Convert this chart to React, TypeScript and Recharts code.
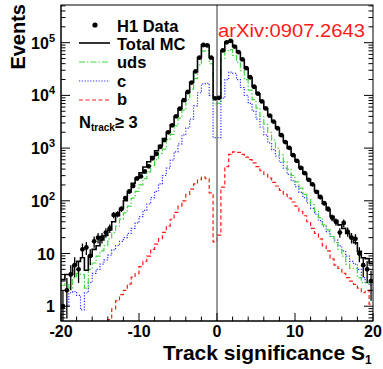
import React from 'react';
import { ComposedChart, Line, Scatter, XAxis, YAxis, ErrorBar, ReferenceLine } from 'recharts';

// 80 bins of width 0.5 from -20 to 20
const binLow = -20;
const binWidth = 0.5;

const totalMC = [
  3.2, 4.0, 4.0, 6.0, 7.1, 8.3, 4.8, 8.9, 12, 14,
  18, 22, 28, 40, 52, 71, 100, 148, 214, 269,
  339, 437, 550, 692, 891, 1122, 1514, 1995, 2754, 3981,
  5623, 7943, 11480, 17780, 28180, 52480, 91200, 89130, 52480, 8900,
  8910, 70800, 102300, 107200, 85100, 66070, 47860, 33110, 21880, 14790,
  10720, 7760, 5620, 4170, 3160, 2400, 1740, 1320, 1000, 741,
  562, 427, 331, 257, 200, 151, 115, 89, 68, 51,
  42, 35, 30, 24, 20, 16, 11, 8.3, 8.0, 6.5,
];

const udsMC = [
  2.5, 2.8, 2.2, 3.5, 4.2, 4.0, 2.2, 5.0, 6.6, 8.9,
  11.2, 14.1, 19, 25, 33, 45, 59, 79, 112, 151,
  200, 263, 355, 468, 603, 794, 955, 1445, 1820, 2630,
  3715, 5248, 8318, 13180, 20890, 38020, 69180, 70790, 39810, 6900,
  7079, 50120, 70790, 74130, 57540, 42660, 29510, 19950, 12590, 8318,
  5754, 3981, 2818, 1995, 1413, 1000, 741, 550, 398, 302,
  229, 174, 132, 105, 85, 63, 48, 35, 28, 21,
  16, 12, 8.9, 6.3, 5.2, 5.2, 3.5, 2.8, 2.8, 2.8,
];

const charmMC = [
  1.0, 1.0, 1.8, 1.9, 1.6, 0.85, 1.8, 2.8, 4.2, 5.0,
  6.3, 7.6, 9.3, 11.7, 14.1, 17, 20, 24, 30, 38,
  50, 66, 87, 115, 151, 209, 302, 417, 589, 851,
  1202, 1778, 2399, 3548, 6310, 11220, 16600, 16980, 10000, 1585,
  1585, 8913, 19950, 27540, 26300, 19950, 14130, 10000, 7079, 5012,
  3548, 2512, 1778, 1259, 933, 708, 537, 417, 316, 240,
  186, 145, 115, 91, 72, 56, 42, 33, 26, 21,
  18, 14, 11.2, 8.9, 7.1, 6.3, 5.0, 3.5, 2.8, 2.5,
];

const beautyMC = [
  0.1, 0.1, 0.1, 0.1, 0.1, 0.1, 0.1, 0.1, 0.1, 0.1,
  0.1, 0.3, 0.56, 0.89, 1.26, 1.66, 2.0, 2.63, 3.55, 4.17,
  5.62, 7.08, 8.91, 12.0, 15.1, 19.1, 25.1, 33.1, 44.7, 60.3,
  79.4, 100, 132, 166, 209, 251, 282, 263, 141, 16.6,
  22.4, 182, 447, 759, 851, 832, 759, 676, 603, 525,
  447, 372, 316, 269, 224, 191, 158, 132, 112, 95,
  79, 63, 52, 40, 30, 24, 19, 14, 11.2, 7.9,
  6.0, 5.2, 4.2, 3.5, 3.0, 2.6, 2.2, 1.8, 2.0, 1.1,
];

const h1Data = [
  1, 2, 4, 6, 5, 12, 13, 9, 17, 20,
  20, 25, 30, 54, 56, 70, 112, 150, 190, 265,
  290, 360, 450, 640, 780, 1060, 1420, 1990, 2700, 4000,
  5600, 8100, 11600, 17500, 28600, 52000, 90500, 88600, 52000, 8800,
  9000, 71200, 101500, 108300, 84500, 66500, 48200, 32800, 22100, 14600,
  10800, 7700, 5650, 4120, 3180, 2380, 1760, 1300, 1010, 735,
  570, 420, 335, 250, 205, 148, 118, 90, 70, 48,
  40, 25, 38, 26, 20, 19, 10, 6, 5, 3,
];

const binCenters = totalMC.map((_, i) => binLow + binWidth * (i + 0.5));
const last = totalMC.length - 1;

const rowAt = (x: number, i: number) => ({
  x,
  total: totalMC[i],
  uds: udsMC[i],
  c: charmMC[i],
  b: beautyMC[i],
});

const histRows = [rowAt(-20, 0), ...binCenters.map((x, i) => rowAt(x, i)), rowAt(20, last)];

const Y_MIN = 0.524;
const Y_MAX = 5.19e5;

const dataPoints = binCenters.map((x, i) => {
  const n = h1Data[i];
  const e = Math.sqrt(n);
  return { x, v: n, err: [Math.min(e, n - Y_MIN), e] };
});

const xTicks = [-20, -18, -16, -14, -12, -10, -8, -6, -4, -2, 0, 2, 4, 6, 8, 10, 12, 14, 16, 18, 20];
const yTicks: number[] = [];
for (let d = 0.1; d < 1e6; d *= 10) {
  for (let k = 1; k < 10; k++) {
    const v = Math.round(k * d * 1000) / 1000;
    if (v >= Y_MIN && v <= Y_MAX) yTicks.push(v);
  }
}

const FONT = '"Liberation Sans", Arial, Helvetica, sans-serif';
const PLOT_W = 312;
const GREEN = '#45d545';
const BLUE = '#2f2fff';
const RED = '#ff1a1a';

const XTick = (props: any) => {
  const { x, y, payload } = props;
  const major = payload.value % 10 === 0;
  return (
    <g>
      <line x1={x} x2={x} y1={y} y2={y - (major ? 8 : 4.5)} stroke="#000" strokeWidth={1} />
      {major && (
        <text x={x} y={y + 16} textAnchor="middle" fontSize={16} fontWeight="bold" fontFamily={FONT} fill="#000">
          {payload.value}
        </text>
      )}
    </g>
  );
};

const YTick = (props: any) => {
  const { x, y, payload } = props;
  const lg = Math.log10(payload.value);
  const e = Math.round(lg);
  const major = Math.abs(lg - e) < 1e-6;
  const len = major ? 9 : 4.5;
  return (
    <g>
      <line x1={x} x2={x + len} y1={y} y2={y} stroke="#000" strokeWidth={1} />
      <line x1={x + PLOT_W} x2={x + PLOT_W - len} y1={y} y2={y} stroke="#000" strokeWidth={1} />
      {major && (
        <text x={x - 6} y={y + 6} textAnchor="end" fontSize={16} fontWeight="bold" fontFamily={FONT} fill="#000">
          {e === 0 ? '1' : '10'}
          {e > 1 && (
            <tspan fontSize={11} dy={-7}>
              {e}
            </tspan>
          )}
        </text>
      )}
    </g>
  );
};

const Dot = (p: any) => <circle cx={p.cx} cy={p.cy} r={2.4} fill="#000" />;

export default function App() {
  return (
    <div style={{ position: 'absolute', left: 0, top: 0, width: 383, height: 369, background: '#fff' }}>
      <ComposedChart
        width={383}
        height={369}
        data={histRows}
        margin={{ top: 5, right: 10, bottom: 18, left: 6 }}
      >
        <XAxis
          dataKey="x"
          type="number"
          domain={[-20, 20]}
          ticks={xTicks}
          interval={0}
          tick={<XTick />}
          tickLine={false}
          tickSize={0}
          tickMargin={0}
          height={30}
          axisLine={{ stroke: '#000' }}
          allowDataOverflow
        />
        <YAxis
          type="number"
          scale="log"
          domain={[Y_MIN, Y_MAX]}
          ticks={yTicks}
          interval={0}
          tick={<YTick />}
          tickLine={false}
          tickSize={0}
          tickMargin={0}
          width={55}
          axisLine={{ stroke: '#000' }}
          allowDataOverflow
        />
        <Line type="step" dataKey="b" stroke={RED} strokeWidth={1.2} strokeDasharray="4 2.5" dot={false} isAnimationActive={false} />
        <Line type="step" dataKey="c" stroke={BLUE} strokeWidth={1.2} strokeDasharray="1.2 1.6" dot={false} isAnimationActive={false} />
        <Line type="step" dataKey="uds" stroke={GREEN} strokeWidth={1.2} strokeDasharray="6 2 1.5 2" dot={false} isAnimationActive={false} />
        <Line type="step" dataKey="total" stroke="#000" strokeWidth={1.6} dot={false} isAnimationActive={false} />
        <Scatter data={dataPoints} dataKey="v" shape={<Dot />} isAnimationActive={false}>
          <ErrorBar dataKey="err" direction="y" width={0} stroke="#000" strokeWidth={1.3} />
        </Scatter>
        <ReferenceLine x={0} stroke="#777" strokeWidth={1.5} />
      </ComposedChart>

      <svg
        width={383}
        height={369}
        style={{ position: 'absolute', left: 0, top: 0, pointerEvents: 'none' }}
        fontFamily={FONT}
      >
        <rect x={61} y={5} width={312} height={316} fill="none" stroke="#000" strokeWidth={1} />

        <text transform="translate(25,4) rotate(-90)" textAnchor="end" fontSize={20} fontWeight="bold" fill="#000">
          Events
        </text>
        <text x={365} y={360} textAnchor="end" fontSize={21} fontWeight="bold" fill="#000">
          Track significance S
        </text>
        <text x={365} y={364} fontSize={12} fontWeight="bold" fill="#000">
          1
        </text>

        <text x={218} y={37} fontSize={18} fill={RED} textLength={147} lengthAdjust="spacingAndGlyphs">
          arXiv:0907.2643
        </text>

        <g fontSize={16.5} fontWeight="bold" fill="#000">
          <circle cx={95} cy={25} r={2.6} fill="#000" />
          <text x={117} y={32}>H1 Data</text>
          <line x1={79} x2={110} y1={43} y2={43} stroke="#000" strokeWidth={1.6} />
          <text x={117} y={50}>Total MC</text>
          <line x1={79} x2={110} y1={62} y2={62} stroke={GREEN} strokeWidth={1.2} strokeDasharray="6 2 1.5 2" />
          <text x={117} y={68}>uds</text>
          <line x1={79} x2={110} y1={81} y2={81} stroke={BLUE} strokeWidth={1.2} strokeDasharray="1.2 1.6" />
          <text x={117} y={87}>c</text>
          <line x1={79} x2={110} y1={100} y2={100} stroke={RED} strokeWidth={1.2} strokeDasharray="4 2.5" />
          <text x={117} y={105}>b</text>
          <text x={79} y={128}>
            N
            <tspan fontSize={10} dy={3}>track</tspan>
            <tspan dy={-3}>{'\u2265 3'}</tspan>
          </text>
        </g>
      </svg>
    </div>
  );
}
